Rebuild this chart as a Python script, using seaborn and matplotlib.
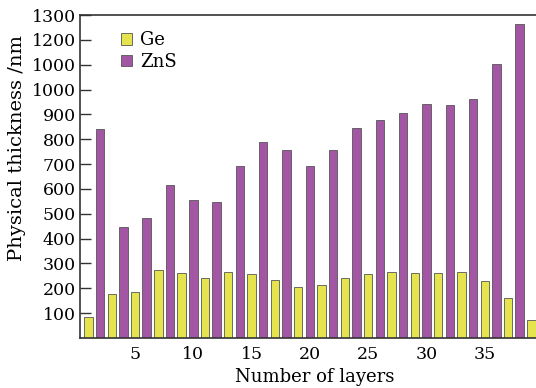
import numpy as np
import pandas as pd
import matplotlib
matplotlib.use("Agg")
import matplotlib.pyplot as plt
import seaborn as sns

# Layer thickness of the Ge / ZnS stack (odd layers Ge, even layers ZnS)
ge_layers = [1, 3, 5, 7, 9, 11, 13, 15, 17, 19, 21, 23, 25, 27, 29, 31, 33, 35, 37, 39]
ge_thickness = [85, 177, 186, 273, 260, 240, 266, 256, 232, 206,
                213, 241, 256, 265, 262, 262, 264, 229, 162, 71]
zns_layers = [2, 4, 6, 8, 10, 12, 14, 16, 18, 20,
              22, 24, 26, 28, 30, 32, 34, 36, 38]
zns_thickness = [840, 446, 481, 617, 555, 548, 692, 790, 755, 691,
                 755, 844, 876, 905, 943, 939, 963, 1102, 1264]

y_ticks = [100, 200, 300, 400, 500, 600, 700, 800, 900, 1000, 1100, 1200, 1300]
y_tick_labels = ["100", "200", "300", "400", "500", "600", "700", "800",
                 "900", "1000", "1000", "1200", "1300"]
x_ticks = [5, 10, 15, 20, 25, 30, 35]

df = pd.DataFrame({
    "layer": ge_layers + zns_layers,
    "thickness": ge_thickness + zns_thickness,
    "material": ["Ge"] * len(ge_layers) + ["ZnS"] * len(zns_layers),
})

sns.set_theme(style="white")
plt.rcParams["font.family"] = ["DejaVu Serif"]
plt.rcParams["text.color"] = "black"
plt.rcParams["axes.labelcolor"] = "black"
plt.rcParams["xtick.color"] = "black"
plt.rcParams["ytick.color"] = "black"

fig = plt.figure(figsize=(5.36, 3.88), dpi=100)
ax = fig.add_axes([80 / 536, 1 - 338 / 388, 470 / 536, (338 - 15) / 388])

palette = {"Ge": "#e6e44e", "ZnS": "#a256a4"}
for mat, sub in df.groupby("material"):
    ax.bar(sub["layer"], sub["thickness"], width=0.72, color=palette[mat],
           edgecolor="#555555", linewidth=0.6, label=mat)

ax.set_xlim(0.28, 40.6)
ax.set_ylim(0, 1300)
ax.set_yticks(y_ticks)
ax.set_yticklabels(y_tick_labels)
ax.set_xticks(x_ticks)
ax.tick_params(axis="y", direction="in", length=8, width=1, color="#333333",
               labelsize=12.5, pad=3, left=True)
ax.tick_params(axis="x", length=0, labelsize=12.5, pad=6)
ax.set_xlabel("Number of layers", fontsize=13, labelpad=3)
ax.set_ylabel("Physical thickness /nm", fontsize=14)
ax.yaxis.set_label_coords(-0.115, 0.588)

for side in ["left", "top", "bottom"]:
    ax.spines[side].set_color("#333333")
    ax.spines[side].set_linewidth(1.2)
ax.spines["right"].set_visible(False)

leg = ax.legend(loc="upper left", bbox_to_anchor=(0.072, 0.972), frameon=False,
                fontsize=13, handlelength=0.6, handleheight=0.6,
                handletextpad=0.45, labelspacing=0.2, borderaxespad=0)

fig.savefig("out.png", dpi=100)
